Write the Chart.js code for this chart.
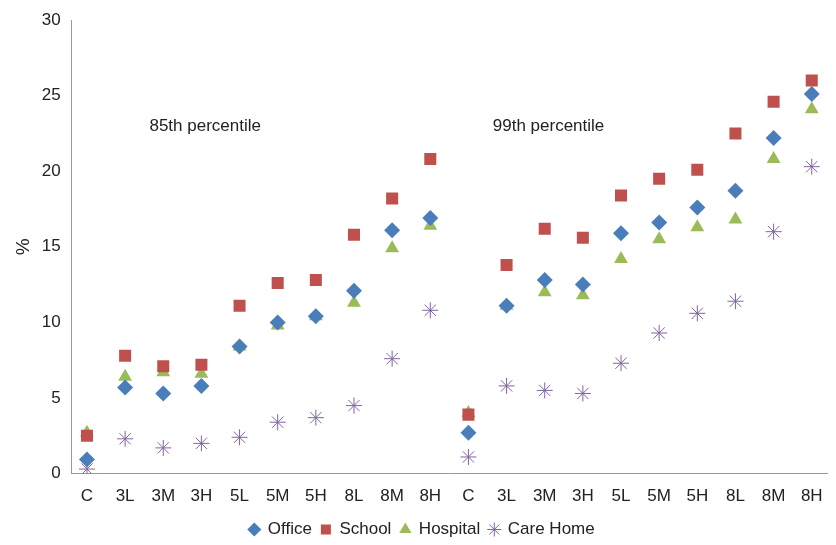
<!DOCTYPE html>
<html><head><script src="https://cdn.jsdelivr.net/npm/chart.js@4/dist/chart.umd.min.js"></script>
<style>body{margin:0;background:#fff}#w{width:836px;height:545px}</style></head>
<body><div id="w"><canvas id="c"></canvas></div>
<script>
const categories=["C","3L","3M","3H","5L","5M","5H","8L","8M","8H","C","3L","3M","3H","5L","5M","5H","8L","8M","8H"];
const office=[0.94,5.7,5.3,5.8,8.4,10.0,10.4,12.1,16.1,16.9,2.7,11.1,12.8,12.5,15.9,16.6,17.6,18.7,22.2,25.1];
const school=[2.5,7.8,7.1,7.2,11.1,12.6,12.8,15.8,18.2,20.8,3.9,13.8,16.2,15.6,18.4,19.5,20.1,22.5,24.6,26.0];
const hospital=[2.7,6.4,6.7,6.6,8.4,9.8,10.4,11.3,14.9,16.4,4.0,11.1,12.0,11.8,14.2,15.5,16.3,16.8,20.8,24.1];
const careHome=[0.3,2.3,1.7,2.0,2.4,3.4,3.7,4.5,7.6,10.8,1.1,5.8,5.5,5.3,7.3,9.3,10.6,11.4,16.0,20.3];
const yTicks=[0,5,10,15,20,25,30];
const notes=[{text:"85th percentile",x:3.1,y:23},{text:"99th percentile",x:12.1,y:23}];
const F="'Liberation Sans', Arial, sans-serif";
const notePlugin={id:'notes',afterDatasetsDraw(ch){const c=ch.ctx;c.save();c.font="17px "+F;c.fillStyle="#222";c.textAlign="center";c.textBaseline="middle";
notes.forEach(n=>c.fillText(n.text,ch.scales.x.getPixelForValue(n.x),ch.scales.y.getPixelForValue(n.y)));c.restore();}};
function ds(label,data,style,color,r){return{label,data:data.map((v,i)=>({x:i,y:v})),pointStyle:style,backgroundColor:color,borderColor:color,pointRadius:r,pointHoverRadius:r,showLine:false,borderWidth:style==='star'?1:0};}
new Chart(document.getElementById('c'),{type:'scatter',
data:{datasets:[
ds('Office',office,'rectRot','#4a7ebb',8),
ds('School',school,'rect','#c0504d',8.5),
ds('Hospital',hospital,'triangle','#9bbb59',8),
ds('Care Home',careHome,'star','#8064a2',8)]},
options:{responsive:true,maintainAspectRatio:false,animation:false,
layout:{padding:{left:8,right:0,top:20,bottom:-3}},
plugins:{legend:{position:'bottom',labels:{usePointStyle:true,boxWidth:10,boxHeight:10,font:{family:F,size:17},color:'#222',padding:9}},tooltip:{enabled:false}},
scales:{x:{type:'linear',min:-0.4,max:19.4,afterBuildTicks(a){a.ticks=categories.map((_,i)=>({value:i}));},grid:{display:false},border:{color:'#999'},
ticks:{font:{family:F,size:17},color:'#222',autoSkip:false,maxRotation:0,padding:5,callback:v=>categories[v]}},
y:{min:0,max:30,afterBuildTicks(a){a.ticks=yTicks.map(v=>({value:v}));},grid:{display:false},border:{color:'#999'},
ticks:{font:{family:F,size:17},color:'#222'},title:{display:true,text:'%',font:{family:F,size:19},color:'#222'}}}},
plugins:[notePlugin]});
</script></body></html>
